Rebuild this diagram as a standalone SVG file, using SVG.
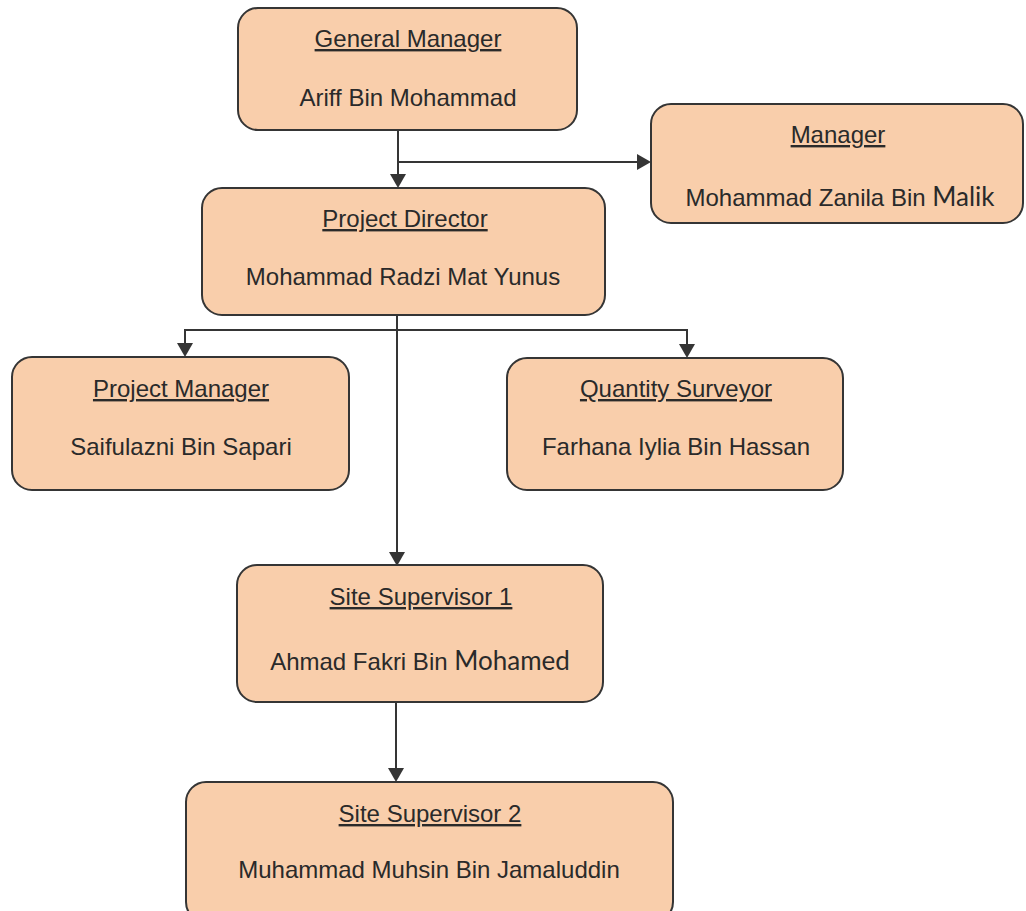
<svg xmlns="http://www.w3.org/2000/svg" width="1026" height="911" viewBox="0 0 1026 911">
<style>
.box{fill:#F9CEAB;stroke:#353535;stroke-width:2}
.t{font-family:"Liberation Sans",Arial,sans-serif;font-size:24px;fill:#2a2a2a;text-anchor:middle}
.u{text-decoration:underline}
.alt{font-family:Lato,"Liberation Sans",sans-serif;font-size:26px}
.c{fill:none;stroke:#353535;stroke-width:2}
</style>
<defs>
<marker id="ah" viewBox="0 0 10 10" refX="10" refY="5" markerWidth="8" markerHeight="8" markerUnits="userSpaceOnUse" orient="auto" style="overflow:visible">
<path d="M0,0 L10,5 L0,10 Z" fill="#353535" transform="scale(1.6) translate(-3.75,-1.875)"/>
</marker>
</defs>
<rect width="1026" height="911" fill="#ffffff"/>
<g id="connectors">
<path class="c" d="M398,130 V186"/>
<polygon points="390,174 406,174 398,188" fill="#353535"/>
<path class="c" d="M398,162 H640"/>
<polygon points="637,154 637,170 651,162" fill="#353535"/>
<path class="c" d="M397,315 V555"/>
<polygon points="389,552 405,552 397,566" fill="#353535"/>
<path class="c" d="M185,345 V330 H687 V345"/>
<polygon points="177,343 193,343 185,357" fill="#353535"/>
<polygon points="679,344 695,344 687,358" fill="#353535"/>
<path class="c" d="M396,702 V770"/>
<polygon points="388,768 404,768 396,782" fill="#353535"/>
</g>
<g id="gm">
<rect class="box" x="238" y="8" width="339" height="122" rx="20"/>
<text class="t u" x="408" y="47">General Manager</text>
<text class="t" x="408" y="106">Ariff Bin Mohammad</text>
</g>
<g id="manager">
<rect class="box" x="651" y="104" width="372" height="119" rx="20"/>
<text class="t u" x="838" y="143">Manager</text>
<text class="t" x="840" y="206">Mohammad Zanila Bin <tspan class="alt">Malik</tspan></text>
</g>
<g id="pd">
<rect class="box" x="202" y="188" width="403" height="127" rx="20"/>
<text class="t u" x="405" y="227">Project Director</text>
<text class="t" x="403" y="285">Mohammad Radzi Mat Yunus</text>
</g>
<g id="pm">
<rect class="box" x="12" y="357" width="337" height="133" rx="20"/>
<text class="t u" x="181" y="397">Project Manager</text>
<text class="t" x="181" y="455">Saifulazni Bin Sapari</text>
</g>
<g id="qs">
<rect class="box" x="507" y="358" width="336" height="132" rx="20"/>
<text class="t u" x="676" y="397">Quantity Surveyor</text>
<text class="t" x="676" y="455">Farhana Iylia Bin Hassan</text>
</g>
<g id="ss1">
<rect class="box" x="237" y="565" width="366" height="137" rx="20"/>
<text class="t u" x="421" y="605">Site Supervisor 1</text>
<text class="t" x="420" y="670">Ahmad Fakri Bin <tspan class="alt">Mohamed</tspan></text>
</g>
<g id="ss2">
<rect class="box" x="186" y="782" width="487" height="140" rx="20"/>
<text class="t u" x="430" y="822">Site Supervisor 2</text>
<text class="t" x="429" y="878">Muhammad Muhsin Bin Jamaluddin</text>
</g>
</svg>
